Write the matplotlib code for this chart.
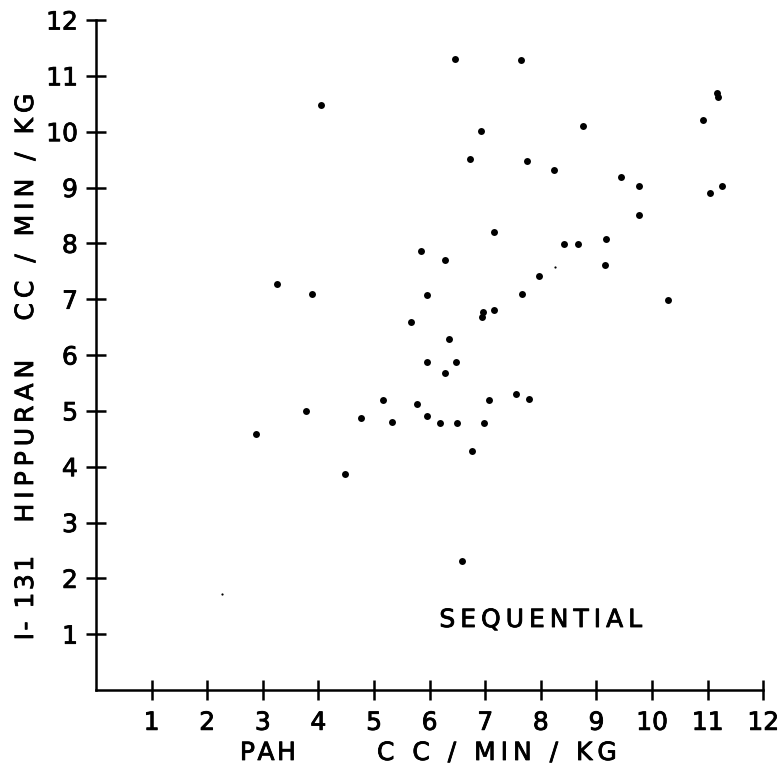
import matplotlib
matplotlib.use("Agg")
import matplotlib.pyplot as plt
import matplotlib.patheffects as pe

# PAH clearance (x) vs I-131 hippuran clearance (y), cc/min/kg
pah = [4.04, 3.26, 3.89, 6.46, 7.64, 11.16, 11.19, 10.92, 6.93, 8.75,
       6.73, 7.75, 8.24, 9.45, 9.76, 11.05, 11.25, 9.76, 7.15, 5.85,
       6.28, 8.42, 8.67, 9.17, 9.16, 7.96, 7.67, 10.28, 5.95, 6.96,
       6.94, 7.15, 5.66, 6.34, 5.95, 6.47, 6.28, 5.17, 5.33, 5.77,
       5.96, 6.19, 6.49, 6.97, 7.06, 7.55, 7.78, 6.76, 6.58, 3.77,
       2.88, 4.77, 4.47]
hippuran = [10.48, 7.28, 7.09, 11.31, 11.29, 10.70, 10.63, 10.21, 10.02, 10.10,
            9.51, 9.48, 9.31, 9.19, 9.02, 8.91, 9.02, 8.51, 8.20, 7.87,
            7.70, 7.99, 7.99, 8.08, 7.62, 7.41, 7.10, 6.98, 7.07, 6.77,
            6.68, 6.80, 6.59, 6.29, 5.88, 5.88, 5.67, 5.20, 4.80, 5.12,
            4.91, 4.78, 4.78, 4.78, 5.20, 5.30, 5.21, 4.28, 2.31, 5.00,
            4.58, 4.88, 3.87]
# faint specks
speck_x = [8.25, 2.26]
speck_y = [7.57, 1.72]

ticks = list(range(1, 13))


def spaced(s, sep="\u200a"):
    return sep.join(s)


plt.rcParams["font.family"] = ["DejaVu Sans"]
bold = [pe.withStroke(linewidth=0.6, foreground="black")]

fig = plt.figure(figsize=(7.81, 7.70), dpi=100)
ax = fig.add_axes([0.1229, 0.1039, 0.8544, 0.8701])

ax.plot(pah, hippuran, "o", color="black", ms=5, mew=0)
ax.plot(speck_x, speck_y, "o", color="black", ms=1.6, mew=0)

ax.set_xlim(0, 12)
ax.set_ylim(0, 12)
ax.set_xticks(ticks)
ax.set_yticks(ticks)
ax.set_xticklabels([str(t) for t in ticks], fontsize=18)
ax.set_yticklabels([str(t) for t in ticks], fontsize=18)
for lab in ax.get_xticklabels() + ax.get_yticklabels():
    lab.set_path_effects(bold)
ax.spines["top"].set_visible(False)
ax.spines["right"].set_visible(False)
for s in ("left", "bottom"):
    ax.spines[s].set_linewidth(1.8)
ax.tick_params(direction="inout", length=14, width=1.8)
ax.tick_params(axis="x", pad=8)
ax.tick_params(axis="y", pad=6)

kw = dict(ha="center", va="center", fontsize=18, path_effects=bold)
fig.text(0.0333, 0.7312, spaced("CC / MIN / KG", "\u2009"), rotation=90, **kw)
fig.text(0.0333, 0.4273, spaced("HIPPURAN", "\u2009"), rotation=90, **kw)
fig.text(0.0333, 0.2234, spaced("I- 131"), rotation=90, **kw)

fig.text(0.3431, 0.0221, spaced("PAH"), **kw)
fig.text(0.6364, 0.0221, spaced("C C / MIN / KG", "\u2009"), **kw)

fig.text(0.6927, 0.1948, spaced("SEQUENTIAL", "\u2009"), **kw)

fig.savefig("out.png", dpi=100)
